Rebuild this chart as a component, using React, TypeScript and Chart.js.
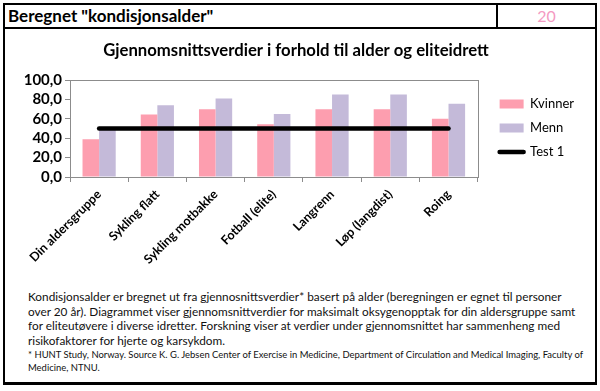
import React, { useEffect, useRef } from 'react';
import { Chart, registerables } from 'chart.js';

Chart.register(...registerables);

const categories = [
  'Din aldersgruppe',
  'Sykling flatt',
  'Sykling motbakke',
  'Fotball (elite)',
  'Langrenn',
  'Løp (langdist)',
  'Roing',
];
const kvinner = [39, 64.5, 70, 54.5, 70, 70, 60];
const menn = [49.5, 74, 81, 65, 85, 85, 75.5];
const test1 = [50, 50, 50, 50, 50, 50, 50];
const yTickValues = [0, 20, 40, 60, 80, 100];
const yTickLabels = ['0,0', '20,0', '40,0', '60,0', '80,0', '100,0'];

const FONT = 'Lato, "Noto Sans", sans-serif';
const PINK = '#fd9eaf';
const LAVENDER = '#c4bad9';

const paragraph = [
  'Kondisjonsalder er bregnet ut fra gjennosnittsverdier* basert på alder (beregningen er egnet til personer',
  'over 20 år). Diagrammet viser gjennomsnittverdier for maksimalt oksygenopptak for din aldersgruppe samt',
  'for eliteutøvere i diverse idretter. Forskning viser at verdier under gjennomsnittet har sammenheng med',
  'risikofaktorer for hjerte og karsykdom.',
];
const footnote = [
  '* HUNT Study, Norway. Source K. G. Jebsen Center of Exercise in Medicine, Department of Circulation and Medical Imaging, Faculty of',
  'Medicine, NTNU.',
];

const plotBorder = {
  id: 'plotBorder',
  beforeDatasetsDraw(chart: any) {
    const { ctx, chartArea } = chart;
    ctx.save();
    ctx.strokeStyle = '#8c8c8c';
    ctx.lineWidth = 1;
    ctx.strokeRect(
      Math.round(chartArea.left) + 0.5,
      Math.round(chartArea.top) + 0.5,
      Math.round(chartArea.right - chartArea.left),
      Math.round(chartArea.bottom - chartArea.top)
    );
    ctx.restore();
  },
};

export default function App() {
  const ref = useRef<HTMLCanvasElement>(null);

  useEffect(() => {
    const chart = new Chart(ref.current as HTMLCanvasElement, {
      type: 'bar',
      data: {
        labels: categories,
        datasets: [
          {
            type: 'line',
            label: 'Test 1',
            data: test1,
            borderColor: '#000',
            backgroundColor: '#000',
            borderWidth: 4.5,
            borderCapStyle: 'round',
            pointRadius: 0,
            fill: false,
            order: -1,
          } as any,
          {
            label: 'Kvinner',
            data: kvinner,
            backgroundColor: PINK,
            borderWidth: 0,
            categoryPercentage: 0.57,
            barPercentage: 1,
          },
          {
            label: 'Menn',
            data: menn,
            backgroundColor: LAVENDER,
            borderWidth: 0,
            categoryPercentage: 0.57,
            barPercentage: 1,
          },
        ],
      },
      options: {
        responsive: false,
        animation: false,
        layout: { padding: { left: 0, right: 8, top: 0, bottom: 0 } },
        plugins: {
          tooltip: { enabled: false },
          title: {
            display: true,
            text: 'Gjennomsnittsverdier i forhold til alder og eliteidrett',
            color: '#000',
            font: { family: FONT, size: 16.7, weight: 'bold', lineHeight: 1.2 },
            padding: { top: 11, bottom: 19 },
          },
          legend: {
            position: 'right',
            align: 'start',
            title: { display: true, text: ' ', font: { size: 8 }, padding: { top: 47, bottom: 0 } },
            labels: {
              usePointStyle: true,
              pointStyleWidth: 24,
              boxHeight: 9,
              padding: 11,
              color: '#000',
              font: { family: FONT, size: 13 },
              generateLabels: (c: any) => {
                const order = [1, 2, 0];
                return order.map((i) => {
                  const ds = c.data.datasets[i];
                  const isLine = i === 0;
                  return {
                    text: ds.label,
                    fillStyle: isLine ? '#000' : ds.backgroundColor,
                    strokeStyle: '#000',
                    lineWidth: isLine ? 4.5 : 0,
                    lineCap: 'round',
                    pointStyle: isLine ? 'line' : 'rect',
                    hidden: false,
                    datasetIndex: i,
                    fontColor: '#000',
                  };
                });
              },
            },
          },
        },
        scales: {
          x: {
            grid: {
              display: true,
              drawOnChartArea: false,
              drawTicks: true,
              tickLength: 5,
              color: '#8c8c8c',
              offset: true,
            },
            border: { display: false },
            ticks: {
              color: '#000',
              font: { family: FONT, size: 12.5, weight: 'bold' },
              minRotation: 45,
              maxRotation: 45,
              autoSkip: false,
              padding: 5,
            },
            afterFit: (s: any) => {
              s.height = 103;
              s.paddingLeft = 0;
              s.paddingRight = 0;
            },
          },
          y: {
            min: 0,
            max: 100,
            afterBuildTicks: (s: any) => {
              s.ticks = yTickValues.map((v) => ({ value: v }));
            },
            grid: {
              display: true,
              drawOnChartArea: false,
              drawTicks: true,
              tickLength: 5,
              color: '#8c8c8c',
            },
            border: { display: false },
            ticks: {
              color: '#000',
              font: { family: FONT, size: 15, weight: 'bold' },
              padding: 3,
              autoSkip: false,
              callback: (v: any) => {
                const idx = yTickValues.indexOf(Number(v));
                return idx >= 0 ? yTickLabels[idx] : '';
              },
            },
            afterFit: (s: any) => {
              s.width = 62;
            },
          },
          y2: {
            position: 'right',
            display: true,
            grid: { display: false, drawTicks: false },
            border: { display: false },
            ticks: { display: false },
            afterFit: (s: any) => {
              s.width = 11;
            },
          },
        },
      },
      plugins: [plotBorder],
    } as any);
    return () => chart.destroy();
  }, []);

  const line = (
    left: number,
    top: number,
    width: number,
    height: number,
    color = '#000'
  ) => (
    <div
      style={{ position: 'absolute', left, top, width, height, background: color }}
    />
  );

  return (
    <div
      style={{
        position: 'fixed',
        left: 0,
        top: 0,
        width: 600,
        height: 391,
        background: '#fff',
        overflow: 'hidden',
        fontFamily: FONT,
        color: '#000',
      }}
    >
      {line(3, 3, 594, 2)}
      {line(3, 27, 594, 2)}
      {line(3, 3, 2, 382)}
      {line(595, 3, 2, 382)}
      {line(496, 3, 2, 26)}
      {line(3, 382, 594, 3)}
      <div
        style={{
          position: 'absolute',
          left: 8,
          top: 5,
          height: 22,
          lineHeight: '22px',
          fontSize: 17,
          fontWeight: 'bold',
          whiteSpace: 'nowrap',
        }}
      >
        Beregnet "kondisjonsalder"
      </div>
      <div
        style={{
          position: 'absolute',
          left: 498,
          top: 5,
          width: 97,
          height: 22,
          lineHeight: '22px',
          fontSize: 16,
          textAlign: 'center',
          color: '#f49ac2',
        }}
      >
        20
      </div>
      <canvas
        ref={ref}
        width={584}
        height={250}
        style={{ position: 'absolute', left: 8, top: 30, width: 584, height: 250 }}
      />
      {paragraph.map((t, i) => (
        <div
          key={'p' + i}
          style={{
            position: 'absolute',
            left: 28,
            top: 297 - 8 + i * 14.7,
            height: 16,
            lineHeight: '16px',
            fontSize: 11.8,
            whiteSpace: 'nowrap',
            color: '#111',
          }}
        >
          {t}
        </div>
      ))}
      {footnote.map((t, i) => (
        <div
          key={'f' + i}
          style={{
            position: 'absolute',
            left: 28,
            top: 355 - 7 + i * 13,
            height: 14,
            lineHeight: '14px',
            fontSize: 9.45,
            whiteSpace: 'nowrap',
            color: '#111',
          }}
        >
          {t}
        </div>
      ))}
    </div>
  );
}
